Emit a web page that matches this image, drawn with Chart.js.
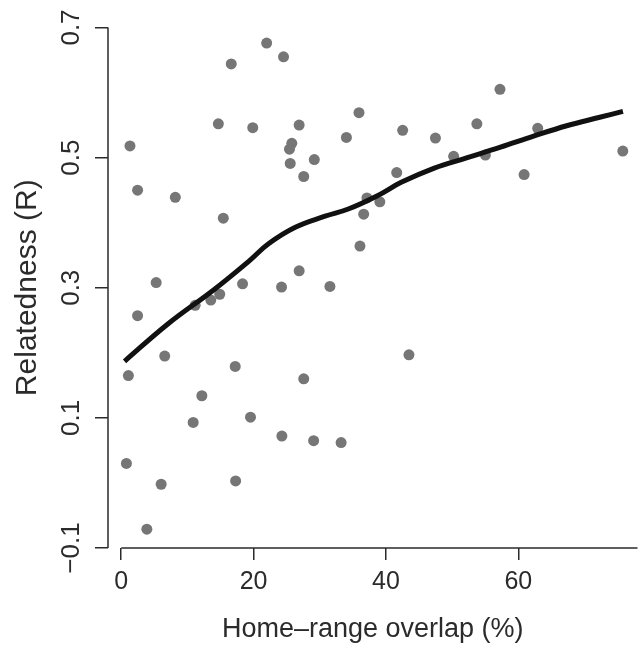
<!DOCTYPE html>
<html>
<head>
<meta charset="utf-8">
<script src="https://cdn.jsdelivr.net/npm/chart.js@4.4.1/dist/chart.umd.min.js"></script>
<style>
  html, body { margin: 0; padding: 0; background: #fff; }
  #wrap { width: 643px; height: 648px; }
</style>
</head>
<body>
<div id="wrap"><canvas id="chart"></canvas></div>
<script>
/* Relatedness vs home-range overlap: scatter with a loess trend, R base-graphics look. */
var overlapX = [
  21.97, 24.52, 16.62, 35.92, 14.67, 19.87, 26.88, 34.02, 1.32, 25.77,
  25.42, 25.53, 29.17, 27.57, 2.47, 8.17, 37.12, 36.63, 15.42, 36.07,
  26.88, 5.28, 18.33, 24.22, 31.53, 57.22, 42.52, 53.73, 47.47, 62.92,
  75.78, 50.22, 55.02, 41.62, 60.87, 39.07, 2.47, 13.53, 14.88, 11.17,
  6.57, 1.08, 17.22, 27.57, 12.18, 10.87, 19.53, 24.27, 29.07, 33.22,
  0.78, 6.03, 17.28, 3.87, 43.47
];
var relatednessY = [
  0.676, 0.655, 0.644, 0.569, 0.552, 0.546, 0.550, 0.531, 0.518, 0.522,
  0.513, 0.491, 0.497, 0.471, 0.450, 0.439, 0.438, 0.413, 0.407, 0.364,
  0.326, 0.308, 0.306, 0.301, 0.302, 0.605, 0.542, 0.552, 0.530, 0.545,
  0.510, 0.502, 0.504, 0.477, 0.474, 0.432, 0.257, 0.281, 0.290, 0.273,
  0.195, 0.165, 0.179, 0.160, 0.134, 0.093, 0.101, 0.072, 0.065, 0.062,
  0.030, -0.002, 0.003, -0.071, 0.197
];
var trendX = [0.5, 7, 14, 19.3, 22.3, 26.3, 30.8, 34.3, 38.8, 42.3, 47.3, 52.3, 57.3, 62.3, 67.3, 72.3, 75.8];
var trendY = [0.187, 0.244, 0.297, 0.341, 0.368, 0.393, 0.410, 0.421, 0.442, 0.462, 0.484, 0.500, 0.516, 0.533, 0.549, 0.562, 0.571];
var xTicks = [0, 20, 40, 60];
var yTicks = [-0.1, 0.1, 0.3, 0.5, 0.7];

var FONT = '"Liberation Sans", Arial, Helvetica, sans-serif';
var INK = "#2b2b2b";

function pairs(xs, ys) {
  return xs.map(function (x, i) { return { x: x, y: ys[i] }; });
}

function tickLabel(v) {
  var s = v.toFixed(1);
  return v < 0 ? "\u2212" + s.slice(1) : s;
}

// R draws axes as open lines that span only the tick range, with rotated y labels
var rAxes = {
  id: "rAxes",
  afterDraw: function (chart) {
    var ctx = chart.ctx, xs = chart.scales.x, ys = chart.scales.y;
    ctx.save();
    ctx.strokeStyle = INK;
    ctx.lineWidth = 1.5;
    ctx.beginPath();
    ctx.moveTo(xs.left, ys.getPixelForValue(yTicks[0]));
    ctx.lineTo(xs.left, ys.getPixelForValue(yTicks[yTicks.length - 1]));
    ctx.moveTo(xs.getPixelForValue(xTicks[0]), ys.bottom);
    ctx.lineTo(xs.right, ys.bottom);
    ctx.stroke();

    ctx.fillStyle = INK;
    ctx.font = "26px " + FONT;
    ctx.textAlign = "center";
    ctx.textBaseline = "middle";
    yTicks.forEach(function (v) {
      ctx.save();
      ctx.translate(72, ys.getPixelForValue(v));
      ctx.rotate(-Math.PI / 2);
      ctx.fillText(tickLabel(v), 0, 0);
      ctx.restore();
    });
    ctx.restore();
  }
};

new Chart(document.getElementById("chart"), {
  type: "scatter",
  data: {
    datasets: [
      {
        type: "line",
        data: pairs(trendX, trendY),
        borderColor: "#111",
        borderWidth: 5,
        pointRadius: 0,
        tension: 0.4,
        fill: false,
        order: 0
      },
      {
        data: pairs(overlapX, relatednessY),
        backgroundColor: "#767676",
        borderWidth: 0,
        pointRadius: 5.5,
        order: 1
      }
    ]
  },
  options: {
    responsive: true,
    maintainAspectRatio: false,
    animation: false,
    devicePixelRatio: 1,
    layout: { padding: { top: 27.5, right: 1.5, left: 0, bottom: 0 } },
    plugins: {
      legend: { display: false },
      tooltip: { enabled: false }
    },
    scales: {
      x: {
        type: "linear",
        min: -2,
        max: 78,
        afterBuildTicks: function (scale) {
          scale.ticks = xTicks.map(function (v) { return { value: v }; });
        },
        afterFit: function (scale) { scale.height = 100; },
        border: { display: false },
        grid: { drawOnChartArea: false, drawTicks: true, tickLength: 12, color: INK, lineWidth: 1.5 },
        ticks: {
          color: INK,
          font: { size: 25, family: FONT },
          padding: 7,
          maxRotation: 0,
          autoSkip: false,
          callback: function (v) { return String(v); }
        },
        title: {
          display: true,
          text: "Home\u2013range overlap (%)",
          color: INK,
          font: { size: 27, family: FONT },
          padding: { top: 0, bottom: 2 }
        }
      },
      y: {
        type: "linear",
        min: -0.1,
        max: 0.7,
        afterBuildTicks: function (scale) {
          scale.ticks = yTicks.map(function (v) { return { value: v }; });
        },
        afterFit: function (scale) { scale.width = 108; },
        border: { display: false },
        grid: { drawOnChartArea: false, drawTicks: true, tickLength: 13, color: INK, lineWidth: 1.5 },
        ticks: { display: false },
        title: {
          display: true,
          text: "Relatedness (R)",
          color: INK,
          font: { size: 30, family: FONT },
          padding: { top: 10, bottom: 0 }
        }
      }
    }
  },
  plugins: [rAxes]
});
</script>
</body>
</html>
